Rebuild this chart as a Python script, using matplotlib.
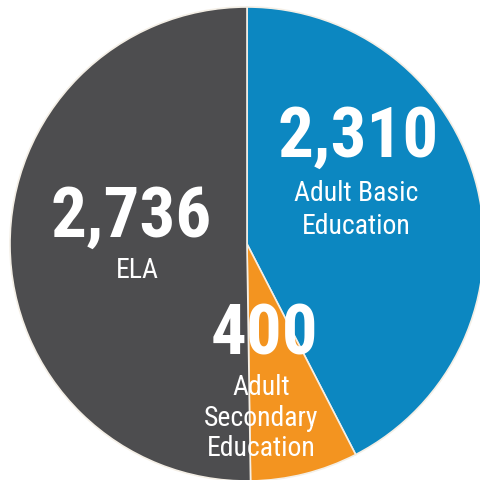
import matplotlib
matplotlib.use('Agg')
import matplotlib.pyplot as plt

# data
labels = ['Adult Basic\nEducation', 'Adult\nSecondary\nEducation', 'ELA']
values = [2310, 400, 2736]
colors = ['#0c87c1', '#f39420', '#4d4d4f']

# label positions in pixels (x, y from top) for number and caption
num_pos = [(358, 137), (264, 335), (131, 217)]
cap_pos = [(356, 210), (261, 418), (137, 270)]
spacing = [1.3, 1.15, 1.2]

W, H = 481, 480
cx, cy, R = 247, 244, 237

fig = plt.figure(figsize=(W / 100, H / 100), dpi=100)
ax = fig.add_axes([0, 0, 1, 1])
ax.pie(values, colors=colors, startangle=90, counterclock=False, radius=1,
       wedgeprops=dict(edgecolor='#f4efe6', linewidth=1.2))
ax.set_xlim(-cx / R, (W - cx) / R)
ax.set_ylim(-(H - cy) / R, cy / R)
ax.set_aspect('equal')
ax.axis('off')

fams = ['Liberation Sans Narrow', 'Roboto Condensed', 'Roboto']

def px(p):
    return ((p[0] - cx) / R, (cy - p[1]) / R)

for v, lab, npos, cpos, ls in zip(values, labels, num_pos, cap_pos, spacing):
    x, y = px(npos)
    ax.text(x, y, f'{v:,}', ha='center', va='center', color='white',
            fontsize=51, fontweight='bold', family=fams)
    x, y = px(cpos)
    ax.text(x, y, lab, ha='center', va='center', color='white',
            fontsize=20, family=fams, linespacing=ls)

fig.savefig('out.png', dpi=100)
